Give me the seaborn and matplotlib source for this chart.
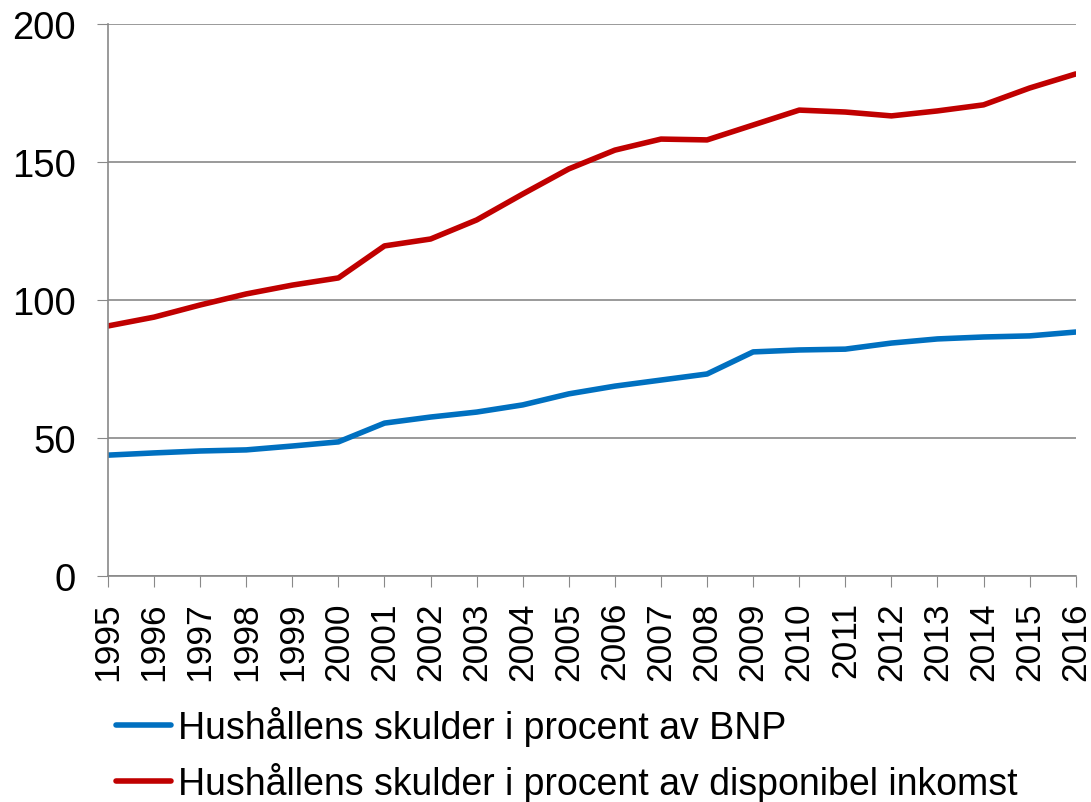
import pandas as pd
import matplotlib.pyplot as plt
import seaborn as sns

years = list(range(1995, 2017))
bnp = [43.8, 44.6, 45.3, 45.7, 47.1, 48.6, 55.4, 57.6, 59.4, 62.0, 66.0,
       68.8, 71.0, 73.2, 81.2, 81.9, 82.2, 84.4, 85.9, 86.6, 87.0, 88.4]
inkomst = [90.6, 93.8, 98.2, 102.2, 105.4, 108.0, 119.6, 122.1, 129.0, 138.4, 147.5,
           154.3, 158.3, 158.0, 163.4, 168.8, 168.1, 166.7, 168.5, 170.7, 176.8, 181.9]
labels = ["Hushållens skulder i procent av BNP",
          "Hushållens skulder i procent av disponibel inkomst"]
colors = ["#0070c0", "#c00000"]

df = pd.DataFrame({
    "year": years * 2,
    "value": bnp + inkomst,
    "serie": [labels[0]] * len(years) + [labels[1]] * len(years),
})

sns.set_style("white")
plt.rcParams['font.family'] = ['Liberation Sans', 'DejaVu Sans']
plt.rcParams['text.color'] = 'black'
plt.rcParams['xtick.color'] = 'black'
plt.rcParams['ytick.color'] = 'black'

fig = plt.figure(figsize=(10.91, 8.03), dpi=100)
ax = fig.add_axes([0.099, 0.2814, 0.887, 0.6875])

sns.lineplot(data=df, x="year", y="value", hue="serie", palette=colors,
             linewidth=4, ax=ax, legend=False)

ax.set_xlim(1995, 2016)
ax.set_ylim(0, 200)
ax.set_yticks([0, 50, 100, 150, 200])
ax.set_xticks(years)
ax.set_xticklabels([str(y) for y in years], rotation=90, fontsize=25.5)
ax.tick_params(axis='y', labelsize=27.5, length=8, color='#898989', direction='out',
               left=True, pad=15, labelcolor='black')
ax.tick_params(axis='x', length=8, color='#898989', direction='out', bottom=True,
               pad=10, labelcolor='black')
ax.yaxis.grid(True, color='#898989', linewidth=1.2)
ax.set_xlabel("")
ax.set_ylabel("")
for s in ['top', 'right']:
    ax.spines[s].set_visible(False)
for s in ['left', 'bottom']:
    ax.spines[s].set_color('#898989')
    ax.spines[s].set_linewidth(1.2)
ax.set_axisbelow(True)

handles = [plt.Line2D([], [], color=c, linewidth=4) for c in colors]
fig.legend(handles, labels, loc='upper left', bbox_to_anchor=(0.089, 0.143),
           frameon=False, fontsize=27, handlelength=1.47, handletextpad=0.2,
           labelspacing=0.42, borderpad=0)

fig.savefig("out.png", dpi=100)
